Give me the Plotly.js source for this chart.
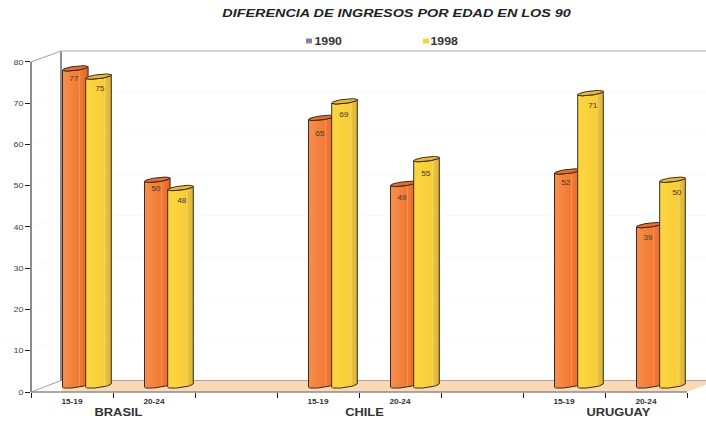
<!DOCTYPE html>
<html>
<head>
<meta charset="utf-8">
<script src="https://cdn.plot.ly/plotly-3.0.1.min.js"></script>
<style>html,body{margin:0;padding:0;background:#fff}#c{width:706px;height:421px}</style>
</head>
<body>
<div id="c"></div>
<script>
// ---- data ----
const chartTitle = 'DIFERENCIA DE INGRESOS POR EDAD EN LOS 90';
const seriesNames = ['1990', '1998'];
const ageGroups = ['15-19', '20-24', '15-19', '20-24', '15-19', '20-24'];
const countries = ['BRASIL', 'CHILE', 'URUGUAY'];
const values1990 = [77, 50, 65, 49, 52, 39];
const values1998 = [75, 48, 69, 55, 71, 50];
const yTicks = [0, 10, 20, 30, 40, 50, 60, 70, 80];

// ---- layout constants ----
const W = 706, H = 421, L = 31, BOTTOM = 392.5, TOP = 50.5;
const slotPx = 82, unitPx = 4.1375;
const depthX = 30, depthY = 11.5;
const xMax = (W - L) / slotPx, yMax = (BOTTOM - TOP) / unitPx;
const px2x = p => (p - L) / slotPx;
const dx = p => p / slotPx, dy = p => p / unitPx;
const slots = [0.5, 1.5, 3.5, 4.5, 6.5, 7.5];
const countrySlots = [1.07, 4.07, 7.17];
const rx = X => X / xMax, ry = Y => Y / yMax;

const orangeScale = [[0,'#f68f50'],[0.45,'#f4803a'],[0.63,'#f37a30'],[0.65,'#f9a576'],[0.68,'#f27b38'],[0.86,'#ea6e2c'],[1,'#dd6428']];
const yellowScale = [[0,'#fbd642'],[0.6,'#f9cf38'],[0.72,'#f3ca42'],[0.75,'#f8de78'],[0.78,'#e9c33c'],[1,'#dcb136']];
const lift = dy(6), baseLift = dy(6.5), halfW = dx(12.8), halfH = dy(2.1), slope = dy(3.3) / (2 * halfW);

function ell(cx, cy, t) {
  const c = Math.cos(t), s = Math.sin(t);
  return [cx + halfW * c, cy + slope * halfW * c - halfH * s];
}
function cylinder(cx, v, scale, topColor) {
  const yt = v + lift, yb = baseLift, N = 24;
  const bx = [], by = [], tx = [], ty = [];
  // body: down the left side, round the base, up the right, back along the cap front
  for (let i = 0; i <= N; i++) { const p = ell(cx, yb, Math.PI - Math.PI * i / N); bx.push(p[0]); by.push(p[1]); }
  for (let i = 0; i <= N; i++) { const p = ell(cx, yt, Math.PI * i / N); bx.push(p[0]); by.push(p[1]); }
  bx.push(bx[0]); by.push(by[0]);
  for (let i = 0; i <= 2 * N; i++) { const p = ell(cx, yt, Math.PI * i / N); tx.push(p[0]); ty.push(p[1]); }
  const common = {type:'scatter', mode:'lines', fill:'toself', hoverinfo:'skip', showlegend:false};
  return [
    Object.assign({}, common, {x:bx, y:by, line:{color:'#3a2a20', width:1},
      fillgradient:{type:'horizontal', colorscale:scale, start:cx-halfW, stop:cx+halfW}}),
    Object.assign({}, common, {x:tx, y:ty, line:{color:'#3a2a20', width:1}, fillcolor:topColor})
  ];
}

const cx1990 = slots.map(s => s + dx(3.3));
const cx1998 = slots.map(s => s + dx(26.5));

const traces = [
  {type:'bar', name:seriesNames[0], x:cx1990, y:values1990, base:lift, width:dx(22), marker:{color:'#f4803a'}, showlegend:false},
  {type:'bar', name:seriesNames[1], x:cx1998, y:values1998, base:lift, width:dx(22), marker:{color:'#f9cf38'}, showlegend:false}
];
values1990.forEach((v,i) => traces.push(...cylinder(cx1990[i], v, orangeScale, '#e86c2c')));
values1998.forEach((v,i) => traces.push(...cylinder(cx1998[i], v, yellowScale, '#e9bb30')));

// ---- frame shapes (paper refs so nothing is clipped) ----
const shapes = [];
const line = (x0,y0,x1,y1,color,width) => shapes.push({type:'line', xref:'paper', yref:'paper', x0:rx(x0), y0:ry(y0), x1:rx(x1), y1:ry(y1), line:{color, width}, layer:'below'});
const backX = dx(depthX), backY = dy(depthY);
yTicks.slice(1, -1).forEach(t => {
  line(0, t, backX, t + backY, '#f9f9f9', 1);
  line(backX, t + backY, xMax, t + backY, '#f9f9f9', 1);
});
shapes.push({type:'path', xref:'paper', yref:'paper', layer:'below', line:{width:0}, fillcolor:'#fcd8b4',
  path:`M${rx(backX+dx(1))},${ry(0)} L${rx(8)},${ry(0)} L${rx(8+dx(depthX))},${ry(backY)} L${rx(backX+dx(1))},${ry(backY)} Z`});
line(backX, backY, 8 + dx(depthX), backY, '#a8a8a8', 1);
line(backX, backY, backX, yMax, '#8e8e92', 2);
line(backX, yMax, xMax, yMax, '#c4c4c4', 1.5);
line(0, 0, backX, backY, '#a0a0a0', 1);
line(0, 80, backX, yMax, '#a0a0a0', 1);
line(0, 0, 0, 80, '#1a1a1a', 1);
line(0, 0, 8, 0, '#8c8c8c', 1.5);

// legend swatches
const swatch = (x0,y0,x1,y1,color) => shapes.push({type:'rect', xref:'paper', yref:'paper', x0:rx(px2x(x0)), x1:rx(px2x(x1)), y0:ry((BOTTOM-y0)/unitPx), y1:ry((BOTTOM-y1)/unitPx), line:{width:0}, fillcolor:color, layer:'above'});
swatch(306,38,312,41.5,'#6a7fc4');
swatch(306,41.5,312,43,'#f07a32');
swatch(423,38,429,43,'#fdd033');

// ---- text ----
const FONT = '"Liberation Sans", Arial, sans-serif';
const ann = [], stretch = [];
const txt = (xPx, yPx, text, size, bold, color, anchor, italic, st) => { stretch.push(st || 1); ann.push({
  xref:'paper', yref:'paper', x:rx(px2x(xPx)), y:ry((BOTTOM-yPx)/unitPx), text:bold?`<b>${italic?'<i>'+text+'</i>':text}</b>`:text,
  showarrow:false, xanchor:anchor||'center', yanchor:'middle', font:{family:FONT, size, color}, borderpad:0, captureevents:false}); };

txt(396.5, 12, chartTitle, 11.6, true, '#222', 'center', true, 1.24);
txt(328, 41, seriesNames[0], 10, true, '#333', 'center', false, 1.23);
txt(445, 41, seriesNames[1], 10, true, '#333', 'center', false, 1.23);
slots.forEach((s,i) => txt(L + s*slotPx, 402, ageGroups[i], 7, true, '#333', 'center', false, 1.18));
countries.forEach((c,i) => txt(L + countrySlots[i]*slotPx, 413, c, 11, true, '#333', 'center', false, 1.17));

const drop1990 = [10, 8.5, 15.5, 14, 11, 12], shift1990 = [-1,-1,-1,-1,-1,-1];
const drop1998 = [12, 12, 13, 14, 12, 12.5], shift1998 = [1,1,-1,-1,2,4];
const valueLabel = (cx, v, drop, sh) => { stretch.push(1.2); ann.push({xref:'x', yref:'y', x:cx, y:v + lift, text:String(v), showarrow:false,
  xshift:sh, yshift:-drop, yanchor:'middle', xanchor:'center', font:{family:FONT, size:7, color:'#4a3a2a'}}); };
values1990.forEach((v,i) => valueLabel(cx1990[i], v, drop1990[i], shift1990[i]));
values1998.forEach((v,i) => valueLabel(cx1998[i], v, drop1998[i], shift1998[i]));

const layout = {
  width:W, height:H, showlegend:false, paper_bgcolor:'#fff', plot_bgcolor:'rgba(0,0,0,0)',
  margin:{l:L, r:0, t:TOP, b:H-BOTTOM, pad:0, autoexpand:false},
  barmode:'overlay', hovermode:false,
  xaxis:{range:[0,xMax], tickmode:'array', tickvals:[0,1,2,3,4,5,6,7,8], ticktext:['','','','','','','','',''],
    ticks:'outside', ticklen:5, tickwidth:1, tickcolor:'#1a1a1a', showgrid:false, zeroline:false, showline:false, fixedrange:true},
  yaxis:{range:[0,yMax], tickmode:'array', tickvals:yTicks, ticktext:yTicks.map(String), ticks:'outside', ticklen:5, tickwidth:1, tickcolor:'#1a1a1a',
    tickfont:{family:FONT, size:7.5, color:'#444'}, showgrid:false, zeroline:false, showline:false, fixedrange:true},
  shapes, annotations:ann
};
// The reference's text is horizontally stretched; widen the real text glyphs to match.
function widen(el, k) {
  el.setAttribute('textLength', (el.getComputedTextLength() * k).toFixed(2));
  el.setAttribute('lengthAdjust', 'spacingAndGlyphs');
}
Plotly.newPlot('c', traces, layout, {displayModeBar:false, staticPlot:true}).then(gd => {
  gd.querySelectorAll('.annotation').forEach(a => {
    const i = +a.getAttribute('data-index'), t = a.querySelector('text');
    if (t) widen(t, stretch[i]);
  });
  gd.querySelectorAll('.ytick text').forEach(t => widen(t, 1.2));
});
</script>
</body>
</html>
